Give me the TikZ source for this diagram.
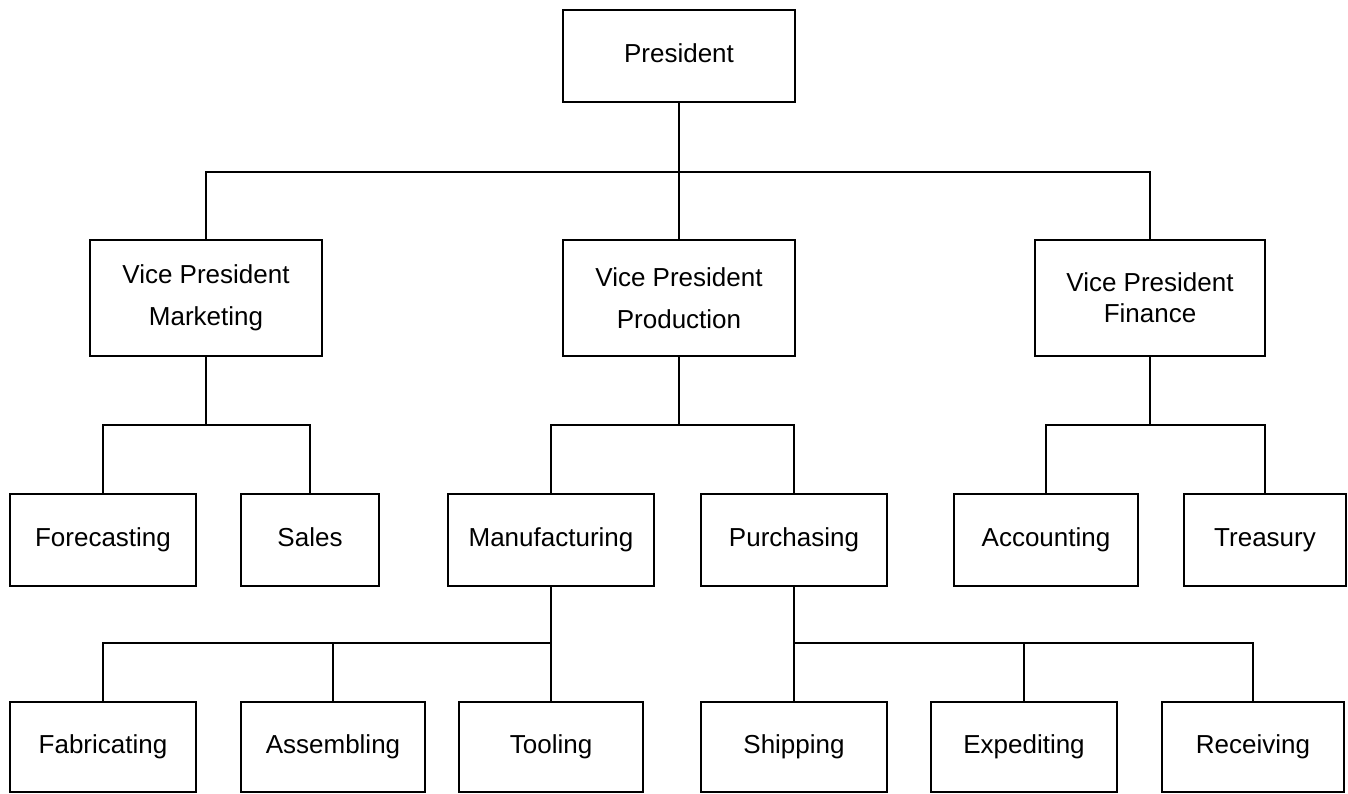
\documentclass[tikz,border=0pt]{standalone}
\usepackage{fontspec}
\setmainfont{Liberation Sans}

\begin{document}
\begin{tikzpicture}[x = 1pt, y = -1pt, line width = 2pt,
    plainbox/.style = {draw, rectangle, inner sep = 0pt, align = center,
      font = \fontsize{26}{31}\selectfont, minimum height = 92pt},
    orgbox/.style = {plainbox, text height = 19pt, text depth = 6pt},
    vpbox/.style = {plainbox, minimum width = 232pt, minimum height = 116pt}]
	\useasboundingbox (0,0) rectangle (1348,793);
	\node[orgbox, minimum width = 232pt] (pres) at (679,56) {President};
	\node[vpbox] (vpm) at (206,298) {Vice President\\[11pt]Marketing};
	\node[vpbox] (vpp) at (679,298) {Vice President\\[11pt]Production};
	\node[vpbox, minimum width = 230pt] (vpf) at (1150,298) {Vice President\\Finance};
	\node[orgbox, minimum width = 186pt] (fore) at (103,540) {Forecasting};
	\node[orgbox, minimum width = 138pt] (sales) at (310,540) {Sales};
	\node[orgbox, minimum width = 206pt] (manu) at (551,540) {Manufacturing};
	\node[orgbox, minimum width = 186pt] (purch) at (794,540) {Purchasing};
	\node[orgbox, minimum width = 184pt] (acct) at (1046,540) {Accounting};
	\node[orgbox, minimum width = 162pt] (treas) at (1265,540) {Treasury};
	\node[orgbox, minimum width = 186pt, minimum height = 90pt] (fab) at (103,747) {Fabricating};
	\node[orgbox, minimum width = 184pt, minimum height = 90pt] (assem) at (333,747) {Assembling};
	\node[orgbox, minimum width = 184pt, minimum height = 90pt] (tool) at (551,747) {Tooling};
	\node[orgbox, minimum width = 186pt, minimum height = 90pt] (ship) at (794,747) {Shipping};
	\node[orgbox, minimum width = 186pt, minimum height = 90pt] (exped) at (1024,747) {Expediting};
	\node[orgbox, minimum width = 182pt, minimum height = 90pt] (recv) at (1253,747) {Receiving};
	% bus lines
	\coordinate (bus1) at (0,172);
	\coordinate (bus2) at (0,425);
	\coordinate (bus3) at (0,643);
	\draw (pres.south) -- (vpp.north);
	\draw (vpm.north) |- (vpp.north |- bus1) -| (vpf.north);
	\draw (fore.north) |- (vpm.south |- bus2) -| (sales.north);
	\draw (manu.north) |- (vpp.south |- bus2) -| (purch.north);
	\draw (acct.north) |- (vpf.south |- bus2) -| (treas.north);
	\foreach \n in {vpm, vpp, vpf}
		\draw (\n.south) -- (\n.south |- bus2);
	\draw (manu.south) -- (tool.north);
	\draw (fab.north) |- (manu.south |- bus3);
	\draw (purch.south) -- (ship.north);
	\draw (ship.north |- bus3) -| (recv.north);
	\foreach \n in {assem, exped}
		\draw (\n.north) -- (\n.north |- bus3);
\end{tikzpicture}
\end{document}
